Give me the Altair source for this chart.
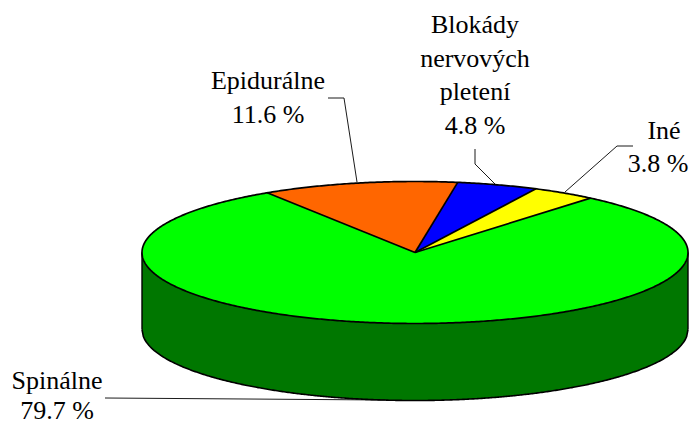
import numpy as np
import pandas as pd
import altair as alt

categories = ["Iné", "Blokády nervových pletení", "Epidurálne", "Spinálne"]
shares = [3.8, 4.8, 11.6, 79.7]
colors = ["#FFFF00", "#0000FF", "#FF6600", "#00FF00"]
wall_color = "#007700"

label_lines = ["Iné", "3.8 %", "Blokády", "nervových", "pletení", "4.8 %",
               "Epidurálne", "11.6 %", "Spinálne", "79.7 %"]
label_x = [664, 658, 475, 475, 475, 475, 268, 268, 57, 57]
label_y = [139, 172, 33, 67, 100, 134, 89, 123, 389, 419]

leader_id = ["a", "a", "a", "b", "b", "b", "c", "c", "c", "d", "d"]
leader_x = [633, 617, 565, 475, 475, 495, 328, 344, 357, 105, 385]
leader_y = [146, 146, 192, 149, 164, 184, 98, 98, 182, 398, 400]

W, H = 681, 418
CX, CY, A, B, DEPTH = 415, 252.5, 273, 71, 77
START = 50.0
total = sum(shares)
edges = START + np.cumsum([0] + [s * 360 / total for s in shares[:-1]])
edges = edges.tolist()

def unit_sector(t1, t2):
    r1, r2 = np.radians(t1), np.radians(t2)
    xl = min(np.cos(r2), 0)
    xr = max(np.cos(r1), 0)
    xs = np.unique(np.r_[np.linspace(xl, xr, 160), np.cos(r1), np.cos(r2), 0])
    xs = xs[(xs >= xl) & (xs <= xr)]
    rim = np.sqrt(np.clip(1 - xs ** 2, 0, None))
    top = rim.copy()
    low = np.zeros_like(xs)
    pos = xs >= 0
    low[pos] = xs[pos] * np.tan(r1)
    if t2 < 90:
        top[pos] = np.minimum(rim[pos], xs[pos] * np.tan(r2))
    else:
        low[~pos] = xs[~pos] * np.tan(r2)
    return xs, top, low

t = np.radians(np.linspace(0, 360, 721))
ex, ey = CX + A * np.cos(t), CY - B * np.sin(t)

sc_x = alt.Scale(domain=[8, 8 + W], range=[0, W], nice=False, zero=False)
sc_y = alt.Scale(domain=[8, 8 + H], range=[0, H], nice=False, zero=False)
X = lambda f: alt.X(f, type="quantitative", scale=sc_x, axis=None)
Y = lambda f: alt.Y(f, type="quantitative", scale=sc_y, axis=None)

layers = []

# side wall
wx = CX + A * np.linspace(-1, 1, 401)
wr = B * np.sqrt(1 - np.linspace(-1, 1, 401) ** 2)
wall = pd.DataFrame({"x": wx, "y": CY + wr, "y2": CY + wr + DEPTH})
layers.append(alt.Chart(wall).mark_area(color=wall_color).encode(x=X("x"), y=Y("y"), y2="y2"))
wall_out = pd.DataFrame({"x": wx, "y": CY + wr + DEPTH, "o": np.arange(401)})
layers.append(alt.Chart(wall_out).mark_line(color="black", strokeWidth=1.6).encode(x=X("x"), y=Y("y"), order="o"))
for side in (CX - A, CX + A):
    d = pd.DataFrame({"x": [side, side], "y": [CY, CY + DEPTH], "o": [0, 1]})
    layers.append(alt.Chart(d).mark_line(color="black", strokeWidth=1.4).encode(x=X("x"), y=Y("y"), order="o"))

# whole top, in the colour of the largest slice
full = pd.DataFrame({"x": wx, "y": CY - wr, "y2": CY + wr})
layers.append(alt.Chart(full).mark_area(color=colors[3]).encode(x=X("x"), y=Y("y"), y2="y2"))

# smaller slices
for i in range(3):
    xs, top, low = unit_sector(edges[i], edges[i + 1])
    d = pd.DataFrame({"x": CX + A * xs, "y": CY - B * top, "y2": CY - B * low, "c": categories[i]})
    layers.append(alt.Chart(d).mark_area(color=colors[i]).encode(x=X("x"), y=Y("y"), y2="y2"))

# slice boundaries
for a in edges:
    r = np.radians(a)
    d = pd.DataFrame({"x": [CX, CX + A * np.cos(r)], "y": [CY, CY - B * np.sin(r)], "o": [0, 1]})
    layers.append(alt.Chart(d).mark_line(color="black", strokeWidth=1.7).encode(x=X("x"), y=Y("y"), order="o"))

# rim
rim = pd.DataFrame({"x": ex, "y": ey, "o": np.arange(len(ex))})
layers.append(alt.Chart(rim).mark_line(color="black", strokeWidth=1.7).encode(x=X("x"), y=Y("y"), order="o"))

# leaders
lead = pd.DataFrame({"x": leader_x, "y": leader_y, "g": leader_id, "o": np.arange(len(leader_x))})
layers.append(alt.Chart(lead).mark_line(color="black", strokeWidth=0.9).encode(
    x=X("x"), y=Y("y"), detail="g:N", order="o"))

# labels
lab = pd.DataFrame({"x": label_x, "y": label_y, "t": label_lines})
layers.append(alt.Chart(lab).mark_text(font="Liberation Serif", fontSize=26, color="black",
                                       align="center", baseline="alphabetic").encode(
    x=X("x"), y=Y("y"), text="t:N"))

chart = alt.layer(*layers).properties(
    width=W, height=H, padding=0, background="white",
    autosize=alt.AutoSizeParams(type="none"),
).configure_view(stroke=None)
chart.save("out.html", embed_options={"renderer": "svg", "actions": False})
